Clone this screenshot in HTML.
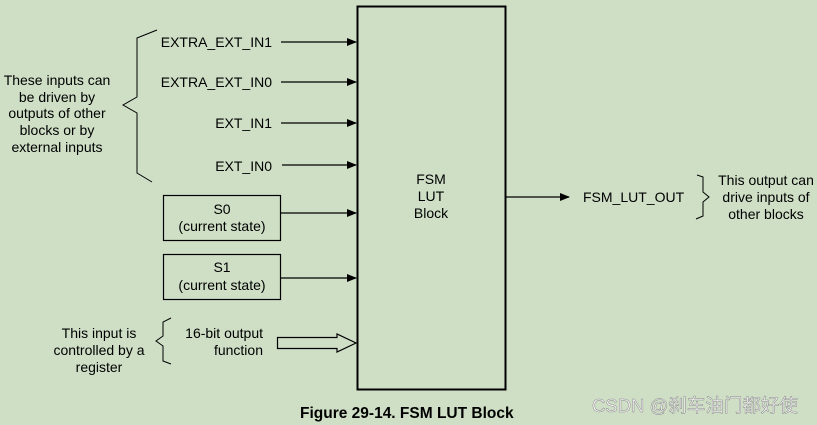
<!DOCTYPE html>
<html><head><meta charset="utf-8"><style>
body{margin:0;background:#cfdfc6;}
svg{display:block;font-family:"Liberation Sans",Arial,sans-serif;font-size:14px;}
</style></head><body>
<svg width="817" height="425" viewBox="0 0 817 425">
<rect width="817" height="425" fill="#cfdfc6"/>
<defs><marker id="a" markerWidth="10" markerHeight="8" refX="9" refY="4" orient="auto" markerUnits="userSpaceOnUse"><path d="M0,0 L10,4 L0,8z" fill="#000"/></marker></defs>
<rect x="357.5" y="6.5" width="148" height="383" fill="none" stroke="#000" stroke-width="2"/>
<g stroke="#000" stroke-width="1.2" marker-end="url(#a)">
<line x1="281" y1="42" x2="356" y2="42"/>
<line x1="281" y1="82" x2="356" y2="82"/>
<line x1="281" y1="123" x2="356" y2="123"/>
<line x1="282" y1="165" x2="356" y2="165"/>
<line x1="280" y1="213" x2="356" y2="213"/>
<line x1="280" y1="278" x2="356" y2="278"/>
<line x1="506" y1="197" x2="569" y2="197"/>
</g>
<rect x="163.5" y="195.5" width="117" height="45" fill="none" stroke="#000" stroke-width="1.2"/>
<rect x="163.5" y="254.5" width="117" height="45" fill="none" stroke="#000" stroke-width="1.2"/>
<path d="M277.5,337.5 H337 V334 L356,343 L337,352 V348.5 H277.5 Z" fill="none" stroke="#000" stroke-width="1.2"/>
<path d="M157,30 L137,38 V97 L123,105 L137,113 V173 L152,182" fill="none" stroke="#000" stroke-width="1"/>
<path d="M171,318 L163,322 V336 L156,341 L163,346 V361 L171,364" fill="none" stroke="#000" stroke-width="1"/>
<path d="M697,175 L703,177 V192 L709,197 L703,202 V216 L696,219" fill="none" stroke="#000" stroke-width="1"/>
<g fill="#000">
<text x="272" y="47" text-anchor="end">EXTRA_EXT_IN1</text>
<text x="272" y="87" text-anchor="end">EXTRA_EXT_IN0</text>
<text x="272" y="128" text-anchor="end">EXT_IN1</text>
<text x="272" y="171" text-anchor="end">EXT_IN0</text>
<text x="222" y="214" text-anchor="middle">S0</text>
<text x="222" y="231" text-anchor="middle">(current state)</text>
<text x="222" y="272" text-anchor="middle">S1</text>
<text x="222" y="290" text-anchor="middle">(current state)</text>
<text x="263" y="338" text-anchor="end">16-bit output</text>
<text x="263" y="355" text-anchor="end">function</text>
<g text-anchor="middle">
<text x="57" y="85">These inputs can</text>
<text x="57" y="102">be driven by</text>
<text x="57" y="118">outputs of other</text>
<text x="57" y="135">blocks or by</text>
<text x="57" y="152">external inputs</text>
<text x="99" y="338">This input is</text>
<text x="99" y="355">controlled by a</text>
<text x="99" y="372">register</text>
<text x="431" y="184">FSM</text>
<text x="431" y="201">LUT</text>
<text x="431" y="218">Block</text>
<text x="766" y="185">This output can</text>
<text x="766" y="202">drive inputs of</text>
<text x="766" y="219">other blocks</text>
</g>
<text x="583" y="202">FSM_LUT_OUT</text>
<text x="300" y="418" font-weight="bold" font-size="15.5">Figure 29-14. FSM LUT Block</text>
</g>
<text x="592" y="412" font-size="18.5" fill="#f4f4f4" stroke="#8a8a8a" stroke-width="0.5" font-family="'Liberation Sans','Noto Sans CJK SC',sans-serif">CSDN @刹车油门都好使</text>
</svg>
</body></html>
